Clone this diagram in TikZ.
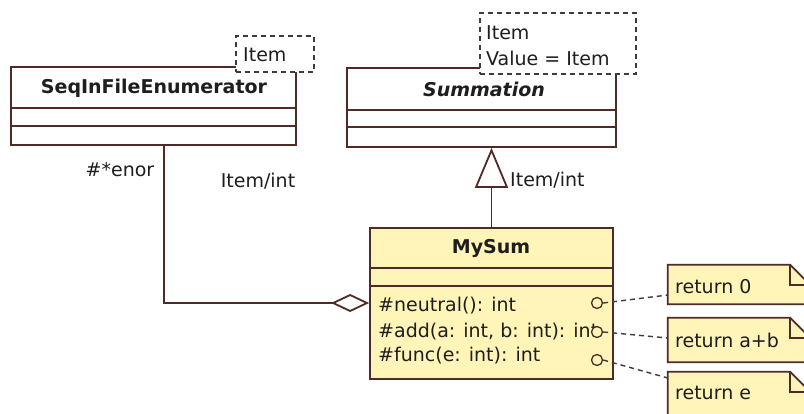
\documentclass[tikz,border=0pt]{standalone}
\usepackage{fontspec}
\setmainfont{DejaVu Sans}
\usetikzlibrary{arrows.meta}
\definecolor{umlline}{RGB}{80,42,38}
\definecolor{umlfill}{RGB}{255,245,185}
\definecolor{umltext}{RGB}{30,30,30}
\definecolor{dashcol}{RGB}{60,60,60}
\tikzset{
  classbox/.style={draw=umlline, line width=1.8pt, fill=white, inner sep=0pt},
  yellowbox/.style={classbox, fill=umlfill},
  compline/.style={draw=umlline, line width=1.8pt},
  tplbox/.style={draw=dashcol, line width=1.5pt, dash pattern=on 5pt off 4pt, fill=white, inner sep=0pt},
  lbl/.style={inner sep=0pt, text=umltext},
  notebox/.style={draw=umlline, line width=1.8pt, fill=umlfill},
  portc/.style={circle, draw=umlline, line width=1.3pt, fill=umlfill, minimum size=11pt, inner sep=0pt},
  notelink/.style={draw=dashcol, line width=1.4pt, dash pattern=on 5pt off 4pt},
  assoc/.style={draw=umlline, line width=1.8pt},
}
\begin{document}
\begin{tikzpicture}[x=1pt,y=-1pt, font=\fontsize{19}{22}\selectfont]
\useasboundingbox (0,0) rectangle (804,414);
\clip (0,0) rectangle (804,414);
\fill[white] (0,0) rectangle (804,414);

% SeqInFileEnumerator
\node[classbox, minimum width=285, minimum height=78] (seq) at (153.5,106) {};
\draw[compline] (seq.west |- 0,108) -- (seq.east |- 0,108);
\draw[compline] (seq.west |- 0,126) -- (seq.east |- 0,126);
\node[tplbox, minimum width=78, minimum height=36] (seqT) at (275,54) {};
\node[lbl, anchor=west] (seqTt) at (243,55) {Item};
\node[lbl, font=\fontsize{19}{22}\selectfont\bfseries] (seqN) at (154,88) {SeqInFileEnumerator};

% Summation
\node[classbox, minimum width=269, minimum height=79] (summ) at (481.5,107.5) {};
\draw[compline] (summ.west |- 0,110) -- (summ.east |- 0,110);
\draw[compline] (summ.west |- 0,127) -- (summ.east |- 0,127);
\node[tplbox, minimum width=156, minimum height=61] (summT) at (558,43.5) {};
\node[lbl, anchor=west] (summT1) at (486,33) {Item};
\node[lbl, anchor=west] (summT2) at (486,58) {Value = Item};
\node[lbl, font=\fontsize{19}{22}\selectfont\bfseries\itshape] (summN) at (484,89) {Summation};

% MySum
\node[yellowbox, minimum width=243, minimum height=151] (mysum) at (491.5,303.5) {};
\draw[compline] (mysum.west |- 0,268) -- (mysum.east |- 0,268);
\draw[compline] (mysum.west |- 0,286) -- (mysum.east |- 0,286);
\node[lbl, font=\fontsize{19}{22}\selectfont\bfseries] (mysumN) at (491,248) {MySum};
\node[lbl, anchor=west] (m1) at (378,306) {\#neutral(): int};
\node[lbl, anchor=west] (m2) at (378,332) {\#add(a: int, b: int): int};
\node[lbl, anchor=west] (m3) at (378,356) {\#func(e: int): int};

% ports
\node[portc] (c1) at (597,303) {};
\node[portc] (c2) at (597,332) {};
\node[portc] (c3) at (597,360) {};

% notes
\node[inner sep=0pt, minimum width=142, minimum height=39] (n1) at (739,284.5) {};
\node[inner sep=0pt, minimum width=142, minimum height=44] (n2) at (739,340) {};
\node[inner sep=0pt, minimum width=142, minimum height=48] (n3) at (739,396) {};
\foreach \n in {n1,n2,n3}{
  \draw[notebox] (\n.south west) -- (\n.north west) -- ([xshift=-20pt]\n.north east)
     -- ([yshift=-20pt]\n.north east) -- (\n.south east) -- cycle;
  \draw[compline] ([xshift=-20pt]\n.north east) -- ([xshift=-20pt,yshift=-20pt]\n.north east)
     -- ([yshift=-20pt]\n.north east);
}
\node[lbl, anchor=west] (t1) at (675,287) {return 0};
\node[lbl, anchor=west] (t2) at (675,340) {return a+b};
\node[lbl, anchor=west] (t3) at (675,393) {return e};

\draw[notelink] (c1.east) -- (n1.west |- 0,295);
\draw[notelink] (c2.east) -- (n2.west |- 0,338);
\draw[notelink] (c3.east) -- (n3.west |- 0,378);

% inheritance
\draw[assoc, -{Triangle[open, length=40pt, width=33pt]}] (mysum.north) -- (summ.south -| mysum.north);
\node[lbl, anchor=west] (inhL) at (510,180) {Item/int};

% aggregation
\coordinate (aggS) at (seq.south -| 164,0);
\draw[assoc, -{Diamond[open, length=38pt, width=18pt]}] (aggS) |- (mysum.west |- 0,303);
\node[lbl] (enorL) at (120,170) {\#*enor};
\node[lbl] (aggL) at (258,181) {Item/int};
\end{tikzpicture}
\end{document}
